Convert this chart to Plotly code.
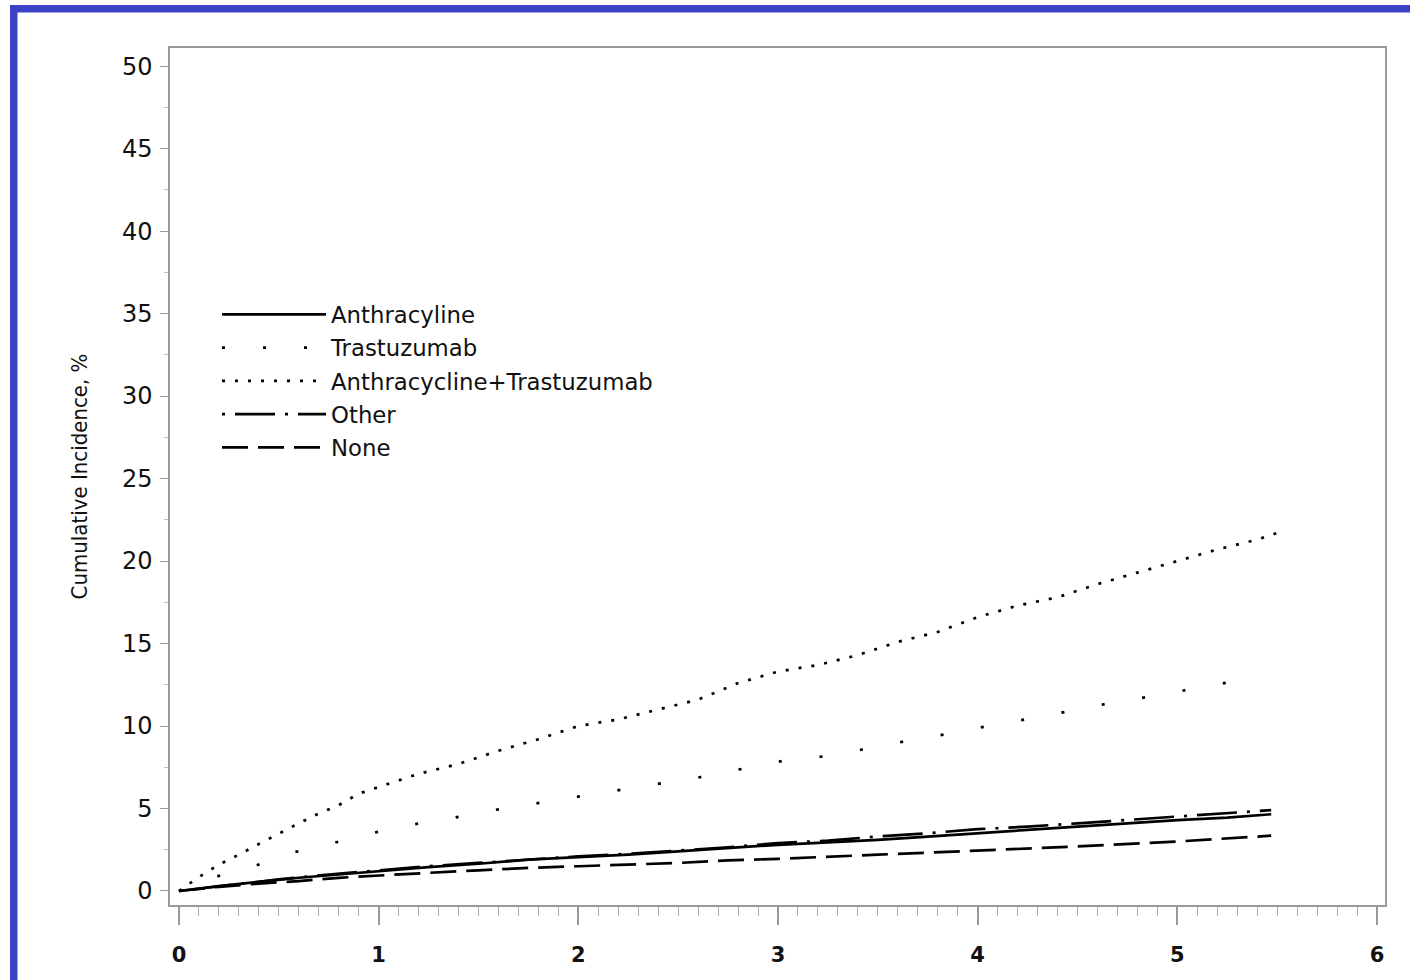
import plotly.graph_objects as go

# ---- data ----
t_anth = [0, 0.2, 0.4, 0.6, 0.8, 1.0, 1.25, 1.5, 1.75, 2.0, 2.25, 2.5, 2.75, 3.0, 3.25, 3.5, 3.75, 4.0, 4.25, 4.5, 4.75, 5.0, 5.25, 5.47]
v_anth = [0, 0.3, 0.55, 0.8, 1.0, 1.2, 1.45, 1.65, 1.9, 2.05, 2.2, 2.4, 2.6, 2.8, 2.95, 3.1, 3.3, 3.5, 3.7, 3.9, 4.1, 4.3, 4.45, 4.65]

t_tras = [0, 0.18, 0.37, 0.54, 0.74, 0.93, 1.13, 1.34, 1.55, 1.76, 1.98, 2.19, 2.40, 2.61, 2.82, 3.03, 3.26, 3.47, 3.67, 3.89, 4.09, 4.29, 4.51, 4.71, 4.93, 5.13, 5.34]
v_tras = [0, 0.85, 1.47, 2.25, 2.8, 3.4, 3.95, 4.35, 4.85, 5.25, 5.7, 6.1, 6.5, 6.9, 7.4, 7.9, 8.2, 8.7, 9.15, 9.6, 10.1, 10.5, 11.0, 11.5, 11.9, 12.4, 12.8]

t_at = [0, 0.1, 0.2, 0.3, 0.4, 0.5, 0.6, 0.7, 0.8, 0.9, 1.0, 1.2, 1.4, 1.6, 1.8, 2.0, 2.2, 2.4, 2.6, 2.8, 3.0, 3.2, 3.4, 3.6, 3.8, 4.0, 4.2, 4.4, 4.6, 4.8, 5.0, 5.2, 5.4, 5.5]
v_at = [0, 0.85, 1.6, 2.2, 2.85, 3.5, 4.1, 4.7, 5.2, 5.9, 6.3, 7.1, 7.7, 8.5, 9.2, 10.0, 10.4, 11.0, 11.6, 12.6, 13.3, 13.7, 14.3, 15.1, 15.7, 16.6, 17.3, 17.8, 18.6, 19.3, 20.0, 20.7, 21.3, 21.7]

t_other = [0, 0.25, 0.5, 0.75, 1.0, 1.25, 1.5, 1.75, 2.0, 2.25, 2.5, 2.75, 3.0, 3.25, 3.5, 3.75, 4.0, 4.25, 4.5, 4.75, 5.0, 5.25, 5.47]
v_other = [0, 0.35, 0.7, 1.0, 1.25, 1.5, 1.7, 1.9, 2.1, 2.25, 2.45, 2.65, 2.9, 3.05, 3.3, 3.5, 3.75, 3.9, 4.1, 4.3, 4.5, 4.7, 4.9]

t_none = [0, 0.2, 0.4, 0.6, 0.8, 1.0, 1.25, 1.5, 1.75, 2.0, 2.25, 2.5, 2.75, 3.0, 3.5, 4.0, 4.5, 5.0, 5.47]
v_none = [0, 0.25, 0.45, 0.6, 0.8, 0.95, 1.1, 1.25, 1.4, 1.5, 1.6, 1.7, 1.85, 1.95, 2.2, 2.45, 2.7, 3.0, 3.35]

series_names = ["Anthracyline", "Trastuzumab", "Anthracycline+Trastuzumab", "Other", "None"]
x_ticks = [0, 1, 2, 3, 4, 5, 6]
y_ticks = [0, 5, 10, 15, 20, 25, 30, 35, 40, 45, 50]

fig = go.Figure()
styles = [
    (t_anth, v_anth, dict(color="black", width=2.7, dash="solid")),
    (t_tras, v_tras, dict(color="black", width=2.7, dash="3px,38px")),
    (t_at, v_at, dict(color="black", width=2.7, dash="3px,10px")),
    (t_other, v_other, dict(color="black", width=2.7, dash="3px,10px,40px,10px")),
    (t_none, v_none, dict(color="black", width=2.7, dash="26px,10px")),
]
for name, (tx, vy, ln) in zip(series_names, styles):
    fig.add_trace(go.Scatter(x=tx, y=vy, mode="lines", name=name, line=ln,
                             legendgroup=name, hoverinfo="skip"))

L, R, T, B = 170, 25, 48, 75
W, H = 1410, 980
pw, ph = W - L - R, H - T - B

def px_x(p):
    return (p - L) / pw

def px_y(p):
    return (H - B - p) / ph

fig.update_layout(
    width=W, height=H,
    margin=dict(l=L, r=R, t=T, b=B),
    paper_bgcolor="white", plot_bgcolor="white",
    showlegend=True,
    legend=dict(x=px_x(217), y=px_y(293), xanchor="left", yanchor="top",
                bgcolor="rgba(0,0,0,0)", borderwidth=0,
                font=dict(family="DejaVu Sans", size=22.8, color="#111"),
                itemwidth=104, tracegroupgap=0.6),
    xaxis=dict(range=[-0.045, 6.04], tickvals=x_ticks, ticktext=[str(v) for v in x_ticks],
               showgrid=False, zeroline=False, showline=True, linecolor="#9a9a9a", linewidth=1.5,
               mirror=True, ticks="outside", ticklen=18, tickcolor="#9a9a9a", tickwidth=1.5,
               ticklabelstandoff=12,
               tickfont=dict(family="DejaVu Sans", size=21, color="#111", weight="bold"),
               minor=dict(dtick=0.1, ticks="outside", ticklen=9, tickcolor="#b0b0b0", tickwidth=1.2)),
    yaxis=dict(range=[-0.85, 51.1], tickvals=y_ticks, ticktext=[str(v) for v in y_ticks],
               showgrid=False, zeroline=False, showline=True, linecolor="#9a9a9a", linewidth=1.5,
               mirror=True, ticks="outside", ticklen=8, tickcolor="#9a9a9a", tickwidth=1.2,
               ticklabelstandoff=3,
               tickfont=dict(family="DejaVu Sans", size=24, color="#111"),
               minor=dict(dtick=2.5, ticks="outside", ticklen=4, tickcolor="#c0c0c0"),
               title=dict(text="Cumulative Incidence, %", standoff=28,
                          font=dict(family="Liberation Sans Narrow, DejaVu Sans Condensed", size=22, color="#111"))),
)

blue = "rgb(58,66,200)"
fig.add_shape(type="rect", xref="paper", yref="paper", x0=px_x(10), x1=px_x(17.5), y0=px_y(990), y1=px_y(5),
              fillcolor=blue, line_width=0, layer="above")
fig.add_shape(type="rect", xref="paper", yref="paper", x0=px_x(10), x1=px_x(1415), y0=px_y(12.5), y1=px_y(5),
              fillcolor=blue, line_width=0, layer="above")

fig.write_html("out.html", config={"displayModeBar": False},
               post_script="document.body.style.margin='0px';document.body.style.overflow='hidden';")
